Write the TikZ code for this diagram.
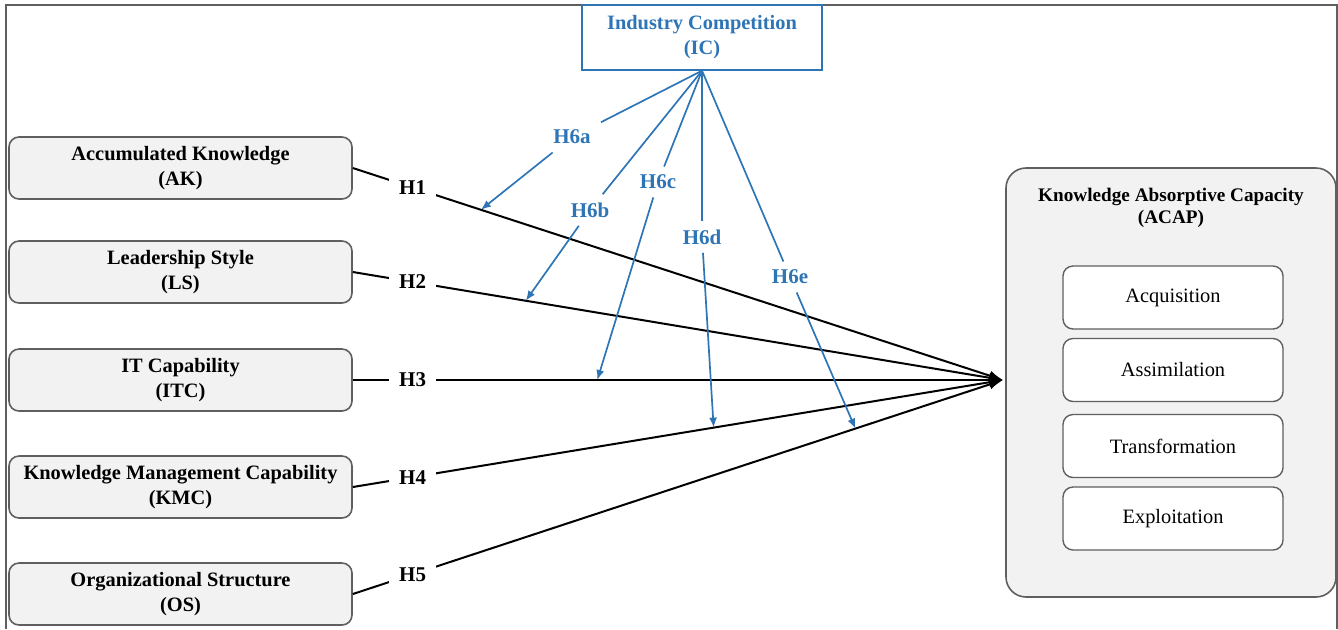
\documentclass[tikz,border=0pt]{standalone}
\usepackage{fontspec}
\setmainfont{Liberation Serif}
\usetikzlibrary{arrows.meta, positioning, calc}
\definecolor{icblue}{HTML}{2E75B6}
\definecolor{boxgray}{HTML}{F2F2F2}
\definecolor{edgegray}{HTML}{5F5F5F}
\tikzset{
  factor/.style={rectangle, rounded corners=5pt, draw=edgegray, fill=boxgray, line width=0.8pt,
    minimum width=171.5pt, minimum height=31pt, align=center,
    font=\fontsize{10.2}{12.5}\selectfont\bfseries},
  dimbox/.style={rectangle, rounded corners=5pt, draw=edgegray, fill=white, line width=0.7pt,
    minimum width=110pt, minimum height=31.5pt, font=\fontsize{10.2}{12.5}\selectfont},
  hyp/.style={fill=white, inner xsep=5pt, inner ysep=3pt, font=\fontsize{10.5}{12.5}\selectfont\bfseries},
  modhyp/.style={fill=white, inner xsep=5pt, inner ysep=4pt, text=icblue, font=\fontsize{10.5}{12.5}\selectfont\bfseries},
  hypline/.style={line width=1pt, -{Latex[length=7pt,width=5pt]}},
  modline/.style={draw=icblue, line width=0.85pt}
}
\begin{document}
\begin{tikzpicture}[x=0.5pt, y=-0.5pt]
\useasboundingbox (0,0) rectangle (1338,629);
\draw[edgegray, line width=0.8pt] (6,629) -- (6,5) -- (1337,5) -- (1337,629);
% dependent construct
\node[rectangle, rounded corners=10pt, draw=edgegray, fill=boxgray, line width=0.8pt,
  minimum width=165pt, minimum height=214.5pt] at (1171,382.5) (ACAP) {};
\node[align=center, font=\fontsize{9.6}{11}\selectfont\bfseries] at (1171,208) (ACAPt) {Knowledge Absorptive Capacity\\(ACAP)};
\node[dimbox] at (1173,297.5) (D1) {Acquisition};
\node[dimbox] at (1173,370) (D2) {Assimilation};
\node[dimbox] at (1173,446) (D3) {Transformation};
\node[dimbox] at (1173,518.5) (D4) {Exploitation};
\coordinate (tip) at (1003,380);
% antecedents
\node[factor] at (180.5,168) (AK) {Accumulated Knowledge\\(AK)};
\node[factor] at (180.5,272) (LS) {Leadership Style\\(LS)};
\node[factor] at (180.5,380) (ITC) {IT Capability\\(ITC)};
\node[factor] at (180.5,487) (KMC) {Knowledge Management Capability\\(KMC)};
\node[factor] at (180.5,594) (OS) {Organizational Structure\\(OS)};
% moderator
\node[rectangle, draw=icblue, fill=white, line width=0.7pt, minimum width=120pt, minimum height=32.5pt,
  align=center, text=icblue, font=\fontsize{10.2}{12.5}\selectfont\bfseries] at (702,37.5) (IC) {Industry Competition\\(IC)};
% direct paths
\draw[hypline] (AK.east) -- node[hyp, pos=0.092] {H1} coordinate[pos=0.197] (m1) (tip);
\draw[hypline] (LS.east) -- node[hyp, pos=0.092] {H2} coordinate[pos=0.266] (m2) (tip);
\draw[hypline] (ITC.east) -- node[hyp, pos=0.092] {H3} coordinate[pos=0.376] (m3) (tip);
\draw[hypline] (KMC.east) -- node[hyp, pos=0.092] {H4} coordinate[pos=0.555] (m4) (tip);
\draw[hypline] (OS.east) -- node[hyp, pos=0.092] {H5} coordinate[pos=0.773] (m5) (tip);
% moderating paths
\node[modhyp] at (572,137) (H6a) {H6a};
\node[modhyp] at (590,210) (H6b) {H6b};
\node[modhyp] at (658,182) (H6c) {H6c};
\node[modhyp] at (702,237) (H6d) {H6d};
\node[modhyp] at (790,277) (H6e) {H6e};
\foreach \h/\m in {H6a/m1, H6b/m2, H6c/m3, H6d/m4, H6e/m5} {
  \draw[modline] (IC.south) -- (\h);
  \draw[modline, -{Latex[length=5pt,width=4pt]}] (\h) -- (\m);
}
\end{tikzpicture}
\end{document}
